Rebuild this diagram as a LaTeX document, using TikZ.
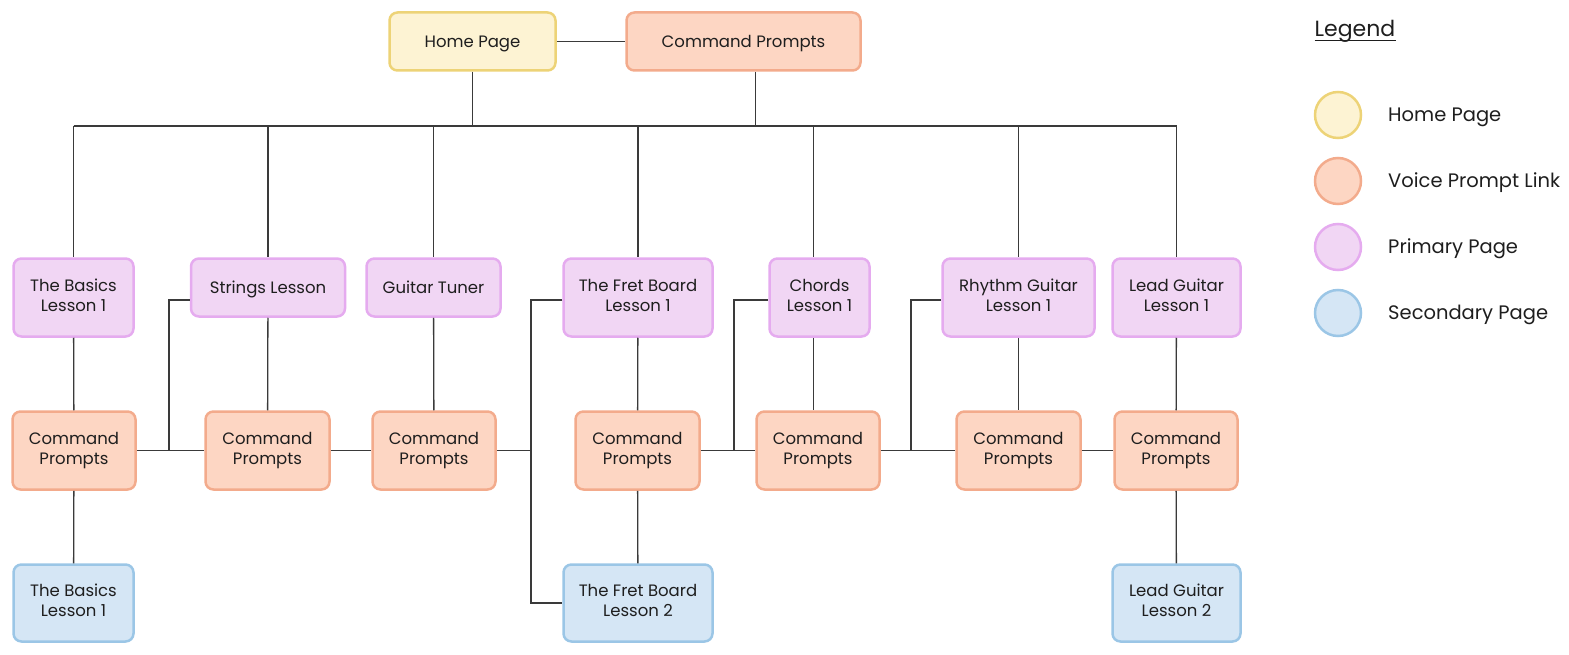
\documentclass[tikz,border=0pt]{standalone}
\usepackage{fontspec}
\setmainfont{Poppins}
\usepackage{tikz}
\definecolor{homefill}{HTML}{FDF3D3}
\definecolor{homeline}{HTML}{EDD377}
\definecolor{cmdfill}{HTML}{FDD6C3}
\definecolor{cmdline}{HTML}{F3AB8C}
\definecolor{primfill}{HTML}{F1D6F4}
\definecolor{primline}{HTML}{E5ABEF}
\definecolor{secfill}{HTML}{D5E6F5}
\definecolor{secline}{HTML}{9BC6E6}
\definecolor{wire}{HTML}{3A3A3A}
\definecolor{ink}{HTML}{1E1E1E}
\tikzset{
  box/.style={draw, line width=2.5pt, rounded corners=8pt, align=center, inner sep=0pt,
    text=ink, font=\fontsize{16.5}{20}\selectfont},
  oneline/.style={minimum height=58pt, execute at begin node={\rule[-5pt]{0pt}{21.5pt}}},
  twoline/.style={minimum height=78pt, execute at begin node={\rule[-5pt]{0pt}{26.5pt}},
    execute at end node={\rule[-5pt]{0pt}{5pt}}},
  homebox/.style={box, draw=homeline, fill=homefill},
  cmdbox/.style={box, draw=cmdline, fill=cmdfill},
  primbox/.style={box, draw=primline, fill=primfill},
  secbox/.style={box, draw=secline, fill=secfill},
  link/.style={draw=wire, line width=1.3pt},
  dot/.style={circle, line width=2.5pt, minimum size=46pt, inner sep=0pt},
  legtext/.style={anchor=west, inner sep=0pt, text=ink, font=\fontsize{19.5}{23}\selectfont}
}
\begin{document}
\begin{tikzpicture}[x=1pt,y=-1pt]
        \useasboundingbox (0,0) rectangle (1569,655);
        % top row
        \node[homebox, oneline, minimum width=166pt] (home) at (472.5,41.5) {Home Page};
        \node[cmdbox, oneline, minimum width=234pt] (topcp) at (743.5,41.5) {Command Prompts};
        % primary pages
        \node[primbox, twoline, minimum width=120pt] (basics1) at (73.5,297.5) {The Basics\\Lesson 1};
        \node[primbox, oneline, minimum width=154pt] (strings1) at (268,287.5) {Strings Lesson};
        \node[primbox, oneline, minimum width=134pt] (tuner1) at (433.5,287.5) {Guitar Tuner};
        \node[primbox, twoline, minimum width=149pt] (fret1) at (638,297.5) {The Fret Board\\Lesson 1};
        \node[primbox, twoline, minimum width=100pt] (chords1) at (819.5,297.5) {Chords\\Lesson 1};
        \node[primbox, twoline, minimum width=152pt] (rhythm1) at (1018.5,297.5) {Rhythm Guitar\\Lesson 1};
        \node[primbox, twoline, minimum width=128pt] (lead1) at (1176.5,297.5) {Lead Guitar\\Lesson 1};
        % command prompts
        \node[cmdbox, twoline, minimum width=123pt] (basicscp) at (74,450.5) {Command\\Prompts};
        \node[cmdbox, twoline, minimum width=124pt] (stringscp) at (267.5,450.5) {Command\\Prompts};
        \node[cmdbox, twoline, minimum width=123pt] (tunercp) at (434,450.5) {Command\\Prompts};
        \node[cmdbox, twoline, minimum width=124pt] (fretcp) at (637.5,450.5) {Command\\Prompts};
        \node[cmdbox, twoline, minimum width=123pt] (chordscp) at (818,450.5) {Command\\Prompts};
        \node[cmdbox, twoline, minimum width=124pt] (rhythmcp) at (1018.5,450.5) {Command\\Prompts};
        \node[cmdbox, twoline, minimum width=123pt] (leadcp) at (1176,450.5) {Command\\Prompts};
        % secondary pages
        \node[secbox, twoline, minimum width=120pt, minimum height=77pt] (basics2) at (73.5,603) {The Basics\\Lesson 1};
        \node[secbox, twoline, minimum width=149pt, minimum height=77pt] (fret2) at (638,603) {The Fret Board\\Lesson 2};
        \node[secbox, twoline, minimum width=128pt, minimum height=77pt] (lead2) at (1176.5,603) {Lead Guitar\\Lesson 2};
        % bus and drops
        \coordinate (bus) at (0,126);
        \coordinate (topdrop) at ([xshift=12pt]topcp.south);
        \coordinate (chordsx) at ([xshift=-6pt]chords1.south);
        \draw[link] (home.east) -- (topcp.west);
        \draw[link] (home.south) -- (home.south |- bus);
        \draw[link] (topdrop) -- (topdrop |- bus);
        \draw[link] (basics1.north |- bus) -- (lead1.north |- bus);
        \draw[link] (basics1.north |- bus) -- (basics1.north);
        \draw[link] (strings1.north |- bus) -- (strings1.north);
        \draw[link] (tuner1.north |- bus) -- (tuner1.north);
        \draw[link] (fret1.north |- bus) -- (fret1.north);
        \draw[link] (chordsx |- bus) -- (chordsx |- chords1.north);
        \draw[link] (rhythm1.north |- bus) -- (rhythm1.north);
        \draw[link] (lead1.north |- bus) -- (lead1.north);
        % columns
        \draw[link] (basics1) -- (basicscp) -- (basics2);
        \draw[link] (strings1) -- (stringscp);
        \draw[link] (tuner1) -- (tunercp);
        \draw[link] (fret1) -- (fretcp) -- (fret2);
        \draw[link] (chordsx) -- (chordsx |- chordscp.north);
        \draw[link] (rhythm1) -- (rhythmcp);
        \draw[link] (lead1) -- (leadcp) -- (lead2);
        % side brackets
        \coordinate (brA) at (169,300);
        \coordinate (brB) at (531,300);
        \coordinate (brC) at (734,300);
        \coordinate (brD) at (911,300);
        \draw[link] (basicscp.east) -- (stringscp.west);
        \draw[link] (brA |- basicscp.east) -- (brA) -- (brA -| strings1.west);
        \draw[link] (stringscp.east) -- (tunercp.west);
        \draw[link] (tunercp.east) -- (brB |- tunercp.east);
        \draw[link] (brB -| fret1.west) -- (brB) |- (fret2.west);
        \draw[link] (fretcp.east) -- (chordscp.west);
        \draw[link] (brC |- fretcp.east) -- (brC) -- (brC -| chords1.west);
        \draw[link] (chordscp.east) -- (rhythmcp.west);
        \draw[link] (brD |- chordscp.east) -- (brD) -- (brD -| rhythm1.west);
        \draw[link] (rhythmcp.east) -- (leadcp.west);
        % legend
        \node[legtext, anchor=base, font=\fontsize{22}{26}\selectfont] (legend) at (1355,37) {Legend};
        \draw[ink, line width=1.3pt] ([yshift=-3.5pt]legend.base west) -- ([yshift=-3.5pt]legend.base east);
        \node[dot, draw=homeline, fill=homefill] (lhome) at (1338,115) {};
        \node[dot, draw=cmdline, fill=cmdfill] (lcmd) at (1338,181) {};
        \node[dot, draw=primline, fill=primfill] (lprim) at (1338,247) {};
        \node[dot, draw=secline, fill=secfill] (lsec) at (1338,313) {};
        \node[legtext] (thome) at (1388,117) {Home Page};
        \node[legtext] (tcmd) at (1388,183) {Voice Prompt Link};
        \node[legtext] (tprim) at (1388,249) {Primary Page};
        \node[legtext] (tsec) at (1388,315) {Secondary Page};
\end{tikzpicture}
\end{document}
